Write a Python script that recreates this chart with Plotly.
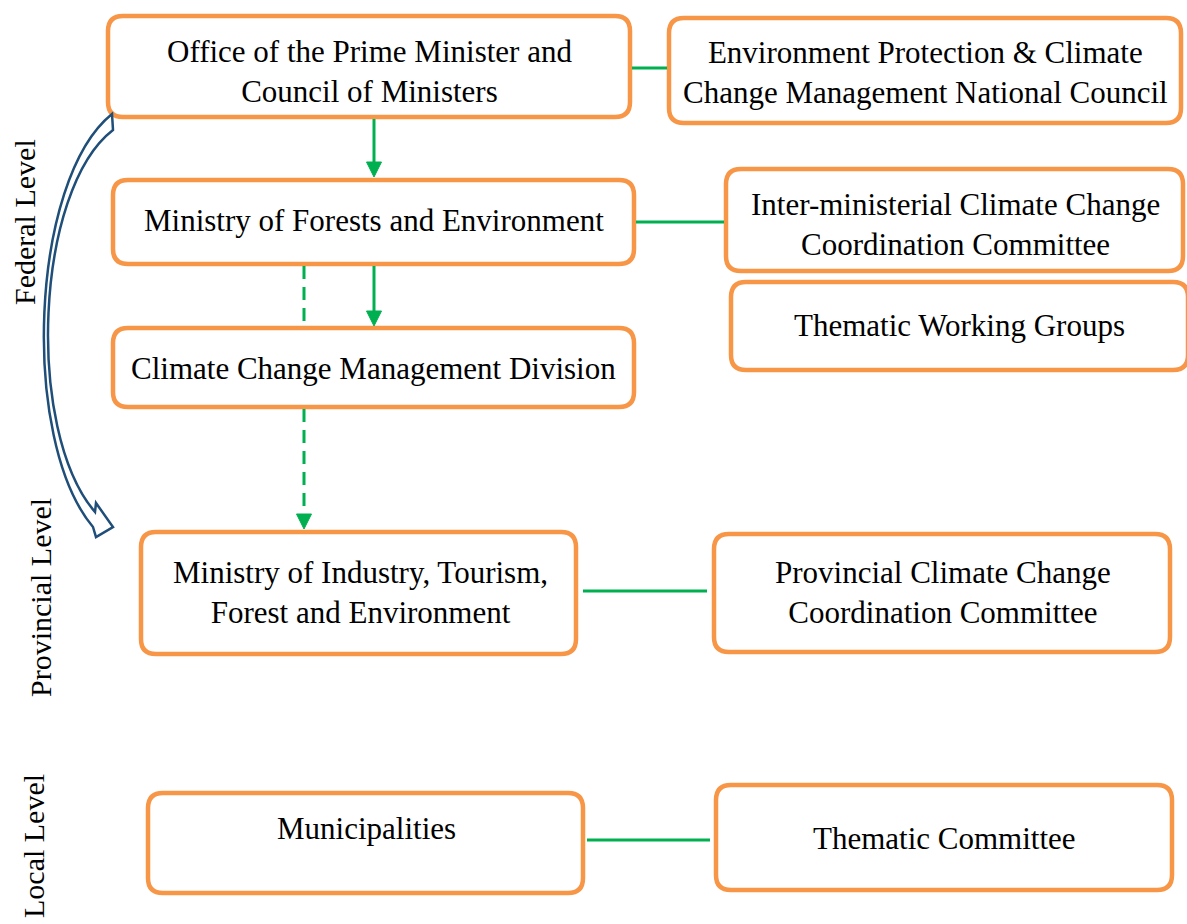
import plotly.graph_objects as go

# ---- content ----
box_labels = [
    "Office of the Prime Minister and<br>Council of Ministers",
    "Environment Protection & Climate<br>Change Management National Council",
    "Ministry of Forests and Environment",
    "Inter-ministerial Climate Change<br>Coordination Committee",
    "Thematic Working Groups",
    "Climate Change Management Division",
    "Ministry of Industry, Tourism,<br>Forest and Environment",
    "Provincial Climate Change<br>Coordination Committee",
    "Municipalities",
    "Thematic Committee",
]
level_labels = ["Federal Level", "Provincial Level", "Local Level"]

# ---- layout (pixel space) ----
box_rects = [
    (106, 14, 632, 119), (667, 16, 1183, 125), (111, 178, 636, 266),
    (724, 167, 1185, 273), (729, 280, 1190, 372), (111, 326, 636, 409),
    (139, 530, 578, 656), (712, 532, 1172, 654), (146, 791, 585, 895),
    (714, 783, 1174, 892),
]
text_pos = [
    (369, 71), (925, 72), (374, 220), (955, 224), (959, 325), (373, 368),
    (360, 592), (943, 592), (366, 828), (944, 838),
]
level_pos = [(24, 222), (40, 598), (33, 846)]

links = [((632, 68), (667, 68)), ((636, 222), (724, 222)),
         ((583, 591), (707, 591)), ((587, 840), (710, 840))]
solid_arrows = [((374, 119), (374, 177)), ((374, 266), (374, 326))]
dashed_lines = [((304, 266), (304, 324))]
dashed_arrows = [((304, 409), (304, 529))]

ORANGE = "#F79646"
GREEN = "#00B050"
BLUE = "#1F4E79"
FONT = "Liberation Serif"


def rrect(x0, y0, x1, y1, r=15):
    x0 += 2; y0 += 2; x1 -= 2; y1 -= 2
    return (f"M {x0+r},{y0} L {x1-r},{y0} Q {x1},{y0} {x1},{y0+r} "
            f"L {x1},{y1-r} Q {x1},{y1} {x1-r},{y1} L {x0+r},{y1} "
            f"Q {x0},{y1} {x0},{y1-r} L {x0},{y0+r} Q {x0},{y0} {x0+r},{y0} Z")


shapes = []
for r in box_rects:
    shapes.append(dict(type="path", path=rrect(*r), line=dict(color=ORANGE, width=4.5),
                       fillcolor="white", layer="above"))

for (a, b) in links:
    shapes.append(dict(type="line", x0=a[0], y0=a[1], x1=b[0], y1=b[1],
                       line=dict(color=GREEN, width=3)))


def head(tip, size=15, half=7.5):
    x, y = tip
    return dict(type="path", path=f"M {x},{y} L {x-half},{y-size} L {x+half},{y-size} Z",
                fillcolor=GREEN, line=dict(color=GREEN, width=1))


for (a, b) in solid_arrows:
    shapes.append(dict(type="line", x0=a[0], y0=a[1], x1=b[0], y1=b[1] - 12,
                       line=dict(color=GREEN, width=3)))
    shapes.append(head(b))
for (a, b) in dashed_lines:
    shapes.append(dict(type="line", x0=a[0], y0=a[1], x1=b[0], y1=b[1],
                       line=dict(color=GREEN, width=3, dash="13px,8px")))
for (a, b) in dashed_arrows:
    shapes.append(dict(type="line", x0=a[0], y0=a[1], x1=b[0], y1=b[1] - 14,
                       line=dict(color=GREEN, width=3, dash="13px,8px")))
    shapes.append(head(b))

# curved block arrow (outline)
curve = ("M 112,114 C 30,180 20,440 93,527 L 96,537 L 113,527 L 96,503 L 95,512 "
         "C 25,430 35,190 113,130 Z")
shapes.append(dict(type="path", path=curve, line=dict(color=BLUE, width=2.5), fillcolor="white"))

annotations = []
for lab, (x, y) in zip(box_labels, text_pos):
    annotations.append(dict(x=x, y=y, text=lab, showarrow=False, xanchor="center",
                            yanchor="middle", font=dict(family=FONT, size=31, color="black")))
for lab, (x, y) in zip(level_labels, level_pos):
    annotations.append(dict(x=x, y=y, text=lab, showarrow=False, textangle=-90,
                            xanchor="center", yanchor="middle",
                            font=dict(family=FONT, size=30, color="black")))

fig = go.Figure()
fig.update_layout(
    width=1187, height=924, margin=dict(l=0, r=0, t=0, b=0),
    paper_bgcolor="white", plot_bgcolor="white",
    xaxis=dict(range=[0, 1187], visible=False, fixedrange=True),
    yaxis=dict(range=[924, 0], visible=False, fixedrange=True),
    shapes=shapes, annotations=annotations, showlegend=False,
)
fig.write_html("out.html", config=dict(displayModeBar=False),
               post_script="document.body.style.margin='0';document.body.style.overflow='hidden';")
